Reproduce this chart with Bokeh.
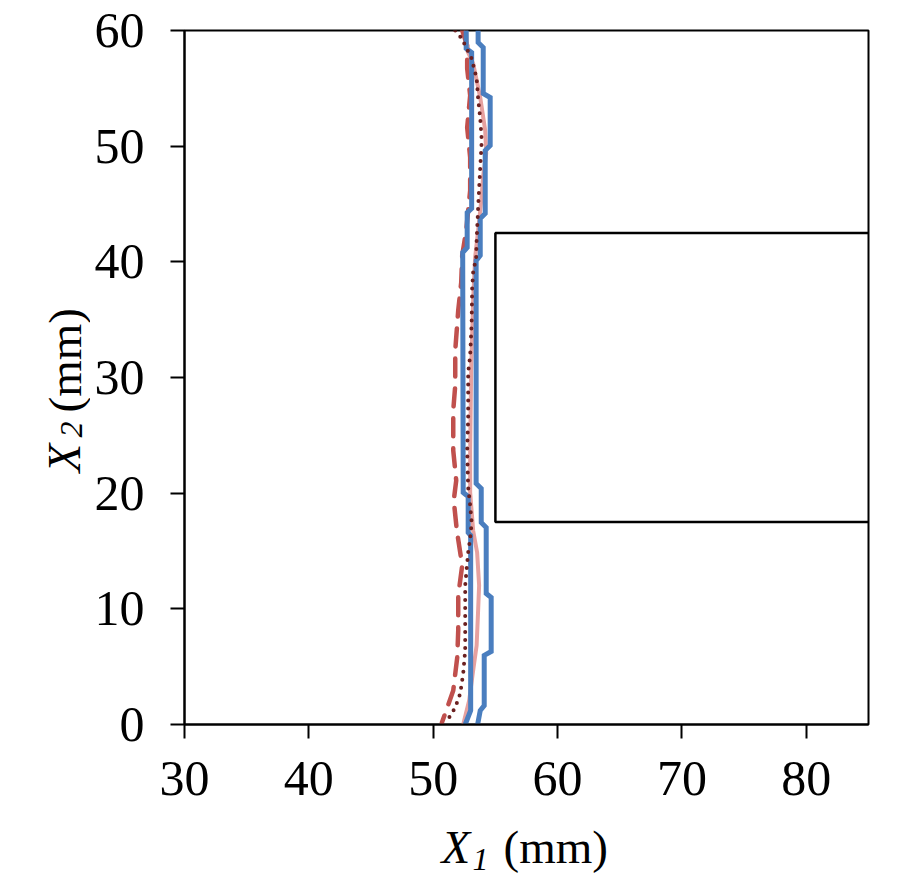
import math
from bokeh.plotting import figure
from bokeh.models import Range1d, FixedTicker
from bokeh.core.properties import value
from bokeh.layouts import row, column
from bokeh.embed import file_html
from bokeh.resources import INLINE

# --- boundary traces, X1 (mm) vs X2 (mm) ---
# outer stepped contour (blue)
outer_x = [53.61, 53.61, 54.02, 54.02, 54.58, 54.58, 54.18, 54.18, 53.78, 53.78,
           53.45, 53.45, 53.86, 53.86, 54.26, 54.26, 54.66, 54.66, 54.10, 54.10,
           53.78, 53.57]
outer_y = [60.0, 58.96, 58.53, 54.55, 54.21, 50.06, 49.63, 44.18, 43.75, 40.55,
           40.11, 20.84, 20.40, 17.46, 17.03, 11.33, 10.98, 6.31, 5.97, 1.64,
           1.21, 0.0]

# inner stepped contour (blue)
inner_x = [52.65, 52.65, 53.09, 53.09, 52.73, 52.73, 52.37, 52.41, 52.81, 52.81,
           53.01, 53.01, 52.57]
inner_y = [60.0, 58.44, 58.10, 44.61, 44.26, 41.24, 40.81, 20.06, 19.71, 16.60,
           16.34, 1.21, 0.0]

# smooth trace (light red)
smooth_x = [52.65, 52.73, 53.21, 53.78, 54.18, 54.26, 54.02, 53.86, 53.61, 53.37,
            53.21, 53.05, 52.97, 52.97, 53.21, 53.53, 53.69, 53.61, 53.49, 53.21,
            52.89, 52.41]
smooth_y = [60.0, 58.27, 57.15, 54.21, 51.35, 49.37, 47.46, 45.30, 42.71, 40.37,
            36.66, 30.60, 23.69, 20.06, 16.77, 14.87, 12.02, 9.86, 6.83, 4.67,
            2.07, 0.0]

# dotted trace (dark red)
dotted_x = [51.77, 52.29, 53.09, 53.49, 53.61, 53.78, 53.90, 53.78, 53.61, 53.49,
            53.45, 53.21, 53.13, 53.09, 52.97, 52.81, 52.81, 52.73, 52.81, 52.97,
            53.09, 52.97, 52.81, 52.69, 52.57, 52.57, 52.57, 52.41, 52.17, 51.77,
            51.04]
dotted_y = [60.0, 59.31, 57.58, 55.85, 54.12, 52.39, 50.49, 48.16, 44.70, 41.84,
            40.37, 39.08, 37.69, 34.75, 31.90, 30.43, 26.54, 23.69, 20.49, 18.93,
            17.46, 16.08, 14.87, 13.49, 12.02, 8.73, 6.40, 4.41, 2.68, 1.47,
            0.17]

# dashed trace (red)
dashed_x = [52.33, 52.73, 52.73, 52.97, 52.73, 52.97, 52.97, 52.65, 52.33, 52.25,
            52.01, 51.77, 51.77, 51.61, 51.61, 51.85, 51.65, 51.90, 52.33, 52.01,
            52.01, 51.93, 51.61, 50.70]
dashed_y = [60.0, 58.70, 56.71, 54.38, 51.61, 49.02, 46.17, 42.71, 40.55, 38.21,
            35.79, 32.33, 29.31, 27.15, 23.69, 21.09, 19.37, 16.77, 13.75, 11.15,
            8.13, 5.79, 2.94, 0.17]

# rectangular insert outline
rect_x = [85.0, 55.0, 55.0, 85.0]
rect_y = [42.5, 42.5, 17.5, 17.5]

x_ticks = [30, 40, 50, 60, 70, 80]
y_ticks = [0, 10, 20, 30, 40, 50, 60]

# axis titles: italic symbol, italic subscript, upright unit
x_title = ["X", "1", "(mm)"]
y_title = ["X", "2", "(mm)"]

SERIF = "Liberation Serif"
TICK_FS = "50px"
TITLE_FS = "47px"
SUB_FS = "32px"

TOTAL_W, TOTAL_H = 910, 886
YLAB_W = 90          # strip holding the vertical title
LEFT_B = 94          # space for y tick labels
FRAME_W, FRAME_H = 684, 694
RIGHT_B, TOP_B, BOTTOM_B = 42, 30, 95
PLOT_W = LEFT_B + FRAME_W + RIGHT_B
PLOT_H = TOP_B + FRAME_H + BOTTOM_B
XLAB_H = TOTAL_H - PLOT_H

p = figure(width=PLOT_W, height=PLOT_H,
           frame_width=FRAME_W, frame_height=FRAME_H,
           min_border_left=LEFT_B, min_border_right=RIGHT_B,
           min_border_top=TOP_B, min_border_bottom=BOTTOM_B,
           x_range=Range1d(30, 85), y_range=Range1d(0, 60),
           output_backend="svg", toolbar_location=None)

p.background_fill_color = "white"
p.border_fill_color = "white"
p.outline_line_color = "black"
p.outline_line_width = 2
p.grid.visible = False

for ax in (p.xaxis[0], p.yaxis[0]):
    ax.axis_label = None
    ax.axis_line_color = "black"
    ax.axis_line_width = 2
    ax.major_tick_line_color = "black"
    ax.major_tick_line_width = 2
    ax.major_tick_out = 14
    ax.major_tick_in = 0
    ax.minor_tick_line_color = None
    ax.major_label_text_font = SERIF
    ax.major_label_text_font_size = TICK_FS
    ax.major_label_text_color = "black"

p.xaxis.ticker = FixedTicker(ticks=x_ticks)
p.yaxis.ticker = FixedTicker(ticks=y_ticks)
p.xaxis.major_label_standoff = 23
p.yaxis.major_label_standoff = 26

# traces
p.line(dashed_x, dashed_y, line_color="#c0504d", line_width=4.5,
       line_dash="18 12", line_cap="round", line_join="round")
p.line(smooth_x, smooth_y, line_color="#e6a19f", line_width=4,
       line_join="round")
p.line(outer_x, outer_y, line_color="#4a7ebf", line_width=5,
       line_join="miter")
p.line(inner_x, inner_y, line_color="#4a7ebf", line_width=5,
       line_join="miter")
p.line(dotted_x, dotted_y, line_color="#6b2020", line_width=4,
       line_dash="0 8", line_cap="round")

# insert outline
p.line(rect_x, rect_y, line_color="black", line_width=2.5)


def strip(w, h, y_lo, y_hi, top=0, bottom=0):
    """Blank canvas whose data units are page pixels (y measured up from page bottom)."""
    f = figure(width=w, height=h, x_range=Range1d(0, w), y_range=Range1d(y_lo, y_hi),
               x_axis_type=None, y_axis_type=None,
               min_border_left=0, min_border_right=0,
               min_border_top=top, min_border_bottom=bottom,
               output_backend="svg", toolbar_location=None)
    f.outline_line_color = None
    f.background_fill_color = "white"
    f.border_fill_color = "white"
    return f


def put(f, text, x, y, size, style, angle=0.0):
    f.text(x=[x], y=[y], text=[text], text_font=value(SERIF),
           text_font_size=value(size), text_font_style=style,
           text_color="black", text_align="left",
           text_baseline="middle", angle=angle)


# vertical title strip left of the plot; its frame lines up with the plot frame
ylab = strip(YLAB_W, PLOT_H, TOTAL_H - (TOP_B + FRAME_H), TOTAL_H - TOP_B,
             top=TOP_B, bottom=BOTTOM_B)
put(ylab, y_title[0], 63, TOTAL_H - 472, TITLE_FS, "italic", math.pi / 2)
put(ylab, y_title[1], 71, TOTAL_H - 437, SUB_FS, "italic", math.pi / 2)
put(ylab, y_title[2], 64, TOTAL_H - 412, TITLE_FS, "normal", math.pi / 2)

# horizontal title strip across the full width
xlab = strip(TOTAL_W, XLAB_H, 0, XLAB_H)
put(xlab, x_title[0], 441, TOTAL_H - 846, TITLE_FS, "italic")
put(xlab, x_title[1], 472, TOTAL_H - 859, SUB_FS, "italic")
put(xlab, x_title[2], 503, TOTAL_H - 846, TITLE_FS, "normal")

layout = column(row(ylab, p), xlab)

open("out.html", "w").write(file_html(layout, INLINE))
